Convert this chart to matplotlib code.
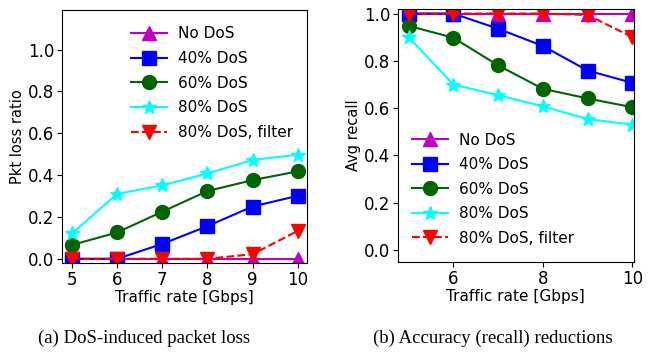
import matplotlib
matplotlib.use("Agg")
import matplotlib.pyplot as plt

rates = [5, 6, 7, 8, 9, 10]
labels = ["No DoS", "40% DoS", "60% DoS", "80% DoS", "80% DoS, filter"]

# (a) packet loss ratio
loss_nodos = [0.0, 0.0, 0.0, 0.0, 0.0, 0.0]
loss_40 = [0.0, 0.0, 0.071, 0.156, 0.250, 0.301]
loss_60 = [0.066, 0.126, 0.225, 0.324, 0.376, 0.418]
loss_80 = [0.121, 0.310, 0.351, 0.408, 0.472, 0.498]
loss_filter = [0.0, 0.0, 0.0, 0.0, 0.022, 0.133]

# (b) average recall
rec_nodos = [1.0, 1.0, 1.0, 1.0, 1.0, 1.0]
rec_40 = [1.0, 1.0, 0.936, 0.863, 0.759, 0.707]
rec_60 = [0.948, 0.898, 0.781, 0.682, 0.641, 0.604]
rec_80 = [0.901, 0.700, 0.655, 0.608, 0.554, 0.530]
rec_filter = [1.0, 1.0, 1.0, 1.0, 0.994, 0.900]

styles = [
    dict(color="m", marker="^", linestyle="-"),
    dict(color="b", marker="s", linestyle="-"),
    dict(color="darkgreen", marker="o", linestyle="-"),
    dict(color="cyan", marker="*", linestyle="-"),
    dict(color="r", marker="v", linestyle="--"),
]

fig = plt.figure(figsize=(6.51, 3.53), dpi=100)
ax1 = fig.add_axes([0.0952, 0.255, 0.376, 0.717])
ax2 = fig.add_axes([0.611, 0.258, 0.3625, 0.717])

for ax, series in [(ax1, [loss_nodos, loss_40, loss_60, loss_80, loss_filter]),
                   (ax2, [rec_nodos, rec_40, rec_60, rec_80, rec_filter])]:
    for ys, lab, st in zip(series, labels, styles):
        ax.plot(rates, ys, label=lab, markersize=10, linewidth=1.5, **st)
    ax.set_xlabel("Traffic rate [Gbps]", fontsize=11, labelpad=1)
    ax.tick_params(labelsize=12, pad=2)

ax1.set_xlim(4.78, 10.2)
ax1.set_ylim(-0.02, 1.19)
ax1.set_xticks(rates)
ax1.set_yticks([0.0, 0.2, 0.4, 0.6, 0.8, 1.0])
ax1.set_ylabel("Pkt loss ratio", fontsize=10.5, labelpad=2)
ax1.legend(loc="upper right", bbox_to_anchor=(1.0, 0.99), frameon=False, fontsize=11,
           handlelength=2.4, labelspacing=0.64, handletextpad=0.7)

ax2.set_xlim(4.76, 10.03)
ax2.set_ylim(-0.05, 1.02)
ax2.set_xticks([6, 8, 10])
ax2.set_yticks([0.0, 0.2, 0.4, 0.6, 0.8, 1.0])
ax2.set_ylabel("Avg recall", fontsize=10.5, labelpad=2)
ax2.legend(loc="lower left", bbox_to_anchor=(0.0, 0.01), frameon=False, fontsize=11,
           handlelength=2.4, labelspacing=0.62, handletextpad=0.7)

fig.text(0.222, 0.042, "(a) DoS-induced packet loss", family="Liberation Serif",
         fontsize=13.5, ha="center", va="center")
fig.text(0.757, 0.042, "(b) Accuracy (recall) reductions", family="Liberation Serif",
         fontsize=13.5, ha="center", va="center")

fig.savefig("out.png", dpi=100)
